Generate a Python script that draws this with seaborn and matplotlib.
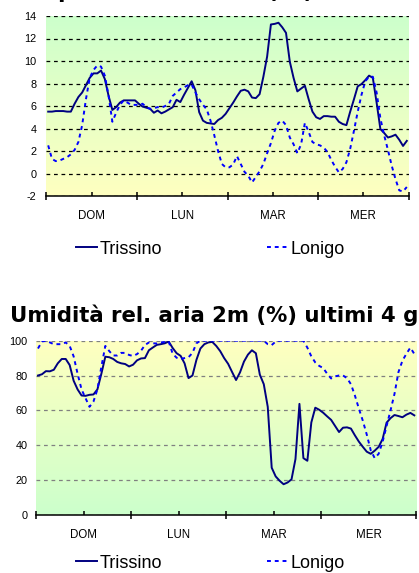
import numpy as np
import pandas as pd
import matplotlib
matplotlib.use("Agg")
import matplotlib.pyplot as plt
import seaborn as sns
from matplotlib.colors import LinearSegmentedColormap
from matplotlib.lines import Line2D
from matplotlib.ticker import FixedLocator, FixedFormatter, NullFormatter

plt.rcParams["axes.unicode_minus"] = False

# giorni sull'asse x (etichette centrate sul giorno)
days = ["DOM", "LUN", "MAR", "MER"]

# temperatura aria 2m (°C), dati orari
temp_trissino = [5.5, 5.5, 5.55, 5.55, 5.55, 5.5, 5.5, 6.2, 6.8, 7.2,
                 7.85, 8.5, 8.9, 8.9, 9.15, 8.4, 6.9, 5.65, 5.9, 6.3,
                 6.5, 6.5, 6.5, 6.5, 6.2, 5.95, 5.85, 5.75, 5.4, 5.6,
                 5.35, 5.5, 5.7, 5.9, 6.55, 6.35, 7.0, 7.6, 8.2, 7.4,
                 5.45, 4.7, 4.5, 4.45, 4.4, 4.75, 4.95, 5.3, 5.8, 6.3,
                 6.85, 7.35, 7.45, 7.3, 6.75, 6.7, 7.05, 8.6, 10.4, 13.25,
                 13.3, 13.4, 13.0, 12.5, 9.95, 8.5, 7.3, 7.55, 7.8, 6.6,
                 5.5, 5.0, 4.85, 5.1, 5.1, 5.05, 5.05, 4.6, 4.4, 4.3,
                 5.5, 6.6, 7.75, 7.95, 8.3, 8.7, 8.5, 6.3, 3.95, 3.6,
                 3.2, 3.3, 3.45, 3.0, 2.45, 2.9]
temp_lonigo = [2.5, 1.3, 1.1, 1.15, 1.3, 1.45, 1.7, 2.1, 2.8, 4.3,
               6.6, 8.5, 9.2, 9.6, 9.5, 8.7, 6.9, 4.6, 5.4, 6.1,
               6.5, 6.3, 6.1, 6.1, 6.1, 6.2, 5.9, 5.75, 5.8, 5.9,
               5.85, 6.0, 6.2, 6.9, 7.2, 7.5, 7.65, 7.85, 7.9, 7.2,
               6.6, 6.1, 5.7, 4.7, 3.4, 2.0, 0.85, 0.55, 0.55, 0.8,
               1.55, 0.85, 0.15, -0.2, -0.8, -0.3, 0.2, 0.85, 1.8, 2.7,
               3.8, 4.5, 4.7, 4.3, 3.2, 2.6, 1.8, 2.6, 4.5, 3.7,
               2.8, 2.6, 2.5, 2.3, 1.9, 1.2, 0.6, 0.1, 0.4, 1.0,
               2.2, 3.8, 5.5, 7.0, 8.2, 8.6, 8.6, 7.2, 4.9, 3.4,
               2.1, 0.7, -0.5, -1.5, -1.6, -1.2]

# umidita relativa aria 2m (%), dati orari
hum_trissino = [80, 80.7, 82.5, 82.4, 83.3, 87, 89.5, 89.5, 86, 77,
                72, 68.5, 68.3, 68.9, 69.1, 72, 81, 90.8, 90.5, 89.5,
                87.8, 87, 86.6, 85.2, 86.2, 88.7, 89.8, 90, 94.5, 96.1,
                97.6, 98, 98.5, 99.5, 95.8, 92.8, 91.3, 87, 78.5, 80,
                89, 95.5, 98, 99, 99.3, 97, 94, 90, 86.7, 82,
                77.4, 81.8, 88, 92, 94.5, 92.8, 80.5, 75, 62, 27,
                22, 19.5, 17.5, 18.5, 20.3, 32, 63.7, 32.5, 31, 53,
                61.5, 60.3, 58.6, 56.5, 54.5, 51, 47.5, 50, 50.2, 49.5,
                45.6, 42, 39, 36.2, 35, 36.8, 39, 43.5, 52.9, 55.5,
                57.3, 56.7, 56, 57.5, 58.5, 57.1]
hum_lonigo = [95.5, 99.5, 100, 99, 98, 98, 98, 99, 97, 91,
              81, 72, 67, 62, 65, 72, 85, 97, 94, 91.5,
              91.5, 93, 93, 91.8, 91.2, 92.3, 94.2, 97.5, 99, 98.5,
              98.4, 99, 99.3, 99.5, 92.5, 90.2, 89.5, 90, 90.5, 93,
              98.5, 100, 100, 100, 100, 100, 100, 100, 100, 100,
              100, 100, 100, 100, 100, 100, 100, 100, 98, 97.5,
              99.5, 100, 100, 100, 100, 100, 100, 100, 96, 91,
              87.5, 85.5, 84.3, 81, 78.3, 79.5, 80, 80, 78.5, 75,
              68.5, 61, 54, 46, 37, 32.5, 35, 42, 51, 60,
              69.5, 82, 88.5, 92.5, 96, 92.4]

colors = {"Trissino": "#000080", "Lonigo": "#0000FF"}
dash_styles = {"Trissino": "", "Lonigo": (2, 2)}
SANS = ["Liberation Sans", "DejaVu Sans"]
GREEN = "#CCFFCC"
YELLOW = "#FFFFC0"


def make_frame(trissino, lonigo):
    hours = np.arange(len(trissino)) + 0.5
    df1 = pd.DataFrame({"ora": hours, "valore": trissino, "stazione": "Trissino"})
    df2 = pd.DataFrame({"ora": hours, "valore": lonigo, "stazione": "Lonigo"})
    return pd.concat([df1, df2], ignore_index=True)


def draw_panel(fig, rect, df, yticks, grid_color, bg, legend_y, ylab_pad):
    ax = fig.add_axes(rect)
    ylim = (yticks[0], yticks[-1])

    # sfondo sfumato
    cmap = LinearSegmentedColormap.from_list("bg", bg)
    grad = np.linspace(0, 1, 256).reshape(-1, 1)
    ax.imshow(grad, cmap=cmap, extent=[0, 96, ylim[0], ylim[1]],
              aspect="auto", zorder=0)

    sns.lineplot(data=df, x="ora", y="valore", hue="stazione",
                 style="stazione", palette=colors, dashes=dash_styles,
                 linewidth=1.4, legend=False, ax=ax)

    ax.set_xlim(0, 96)
    ax.set_ylim(*ylim)
    ax.set_xlabel("")
    ax.set_ylabel("")
    ax.set_yticks(yticks)
    ax.set_axisbelow(True)
    ax.yaxis.grid(True, color=grid_color, linestyle=(0, (3, 3)), linewidth=0.9)
    ax.xaxis.grid(False)

    for side in ["left", "right", "top"]:
        ax.spines[side].set_visible(False)
    ax.spines["bottom"].set_color("black")
    ax.spines["bottom"].set_linewidth(1.1)

    ax.xaxis.set_major_locator(FixedLocator([0, 24, 48, 72, 96]))
    ax.xaxis.set_minor_locator(FixedLocator([12, 36, 60, 84]))
    ax.xaxis.set_major_formatter(NullFormatter())
    ax.xaxis.set_minor_formatter(FixedFormatter(days))
    ax.tick_params(axis="x", which="major", direction="inout", length=6,
                   width=1.1, color="black")
    ax.tick_params(axis="x", which="minor", direction="in", length=3,
                   width=1.1, color="black", pad=10, labelsize=8.3)
    ax.tick_params(axis="y", length=0, pad=ylab_pad, labelsize=7.8)
    for lab in ax.get_xticklabels(minor=True) + ax.get_yticklabels():
        lab.set_family(SANS)

    # legenda: due voci separate sotto il grafico
    h1 = Line2D([], [], color=colors["Trissino"], linewidth=1.4)
    h2 = Line2D([], [], color=colors["Lonigo"], linewidth=1.4,
                linestyle=(0, (2, 2)))
    for h, name, x0 in [(h1, "Trissino", 76 / 419), (h2, "Lonigo", 267 / 419)]:
        fig.legend(handles=[h], labels=[name], loc="center left",
                   bbox_to_anchor=(x0, legend_y), frameon=False,
                   borderpad=0, borderaxespad=0, handlelength=1.15,
                   handletextpad=0.15,
                   prop={"family": SANS, "size": 13})
    return ax


fig = plt.figure(figsize=(4.19, 5.73), dpi=100)

df_temp = make_frame(temp_trissino, temp_lonigo)
df_hum = make_frame(hum_trissino, hum_lonigo)

draw_panel(fig, [46.3 / 419, 1 - 196 / 573, 362.4 / 419, 180 / 573],
           df_temp, list(range(-2, 16, 2)), "black", [GREEN, YELLOW],
           1 - 249 / 573, 7)
draw_panel(fig, [36 / 419, 1 - 514.7 / 573, 380.3 / 419, 174 / 573],
           df_hum, list(range(0, 120, 20)), "#808080", [YELLOW, GREEN],
           1 - 563 / 573, 6)

# titoli (tagliati dal bordo dell'immagine come nell'originale)
fig.text(10 / 419, 1 + 2 / 573, "Temperatura aria 2m (°C) ultimi 4 giorni",
         fontsize=15.3, fontweight="bold", va="baseline", ha="left")
fig.text(10 / 419, 1 - 322 / 573, "Umidità rel. aria 2m (%) ultimi 4 giorni",
         fontsize=15.3, fontweight="bold", va="baseline", ha="left")

fig.savefig("out.png", dpi=100)
